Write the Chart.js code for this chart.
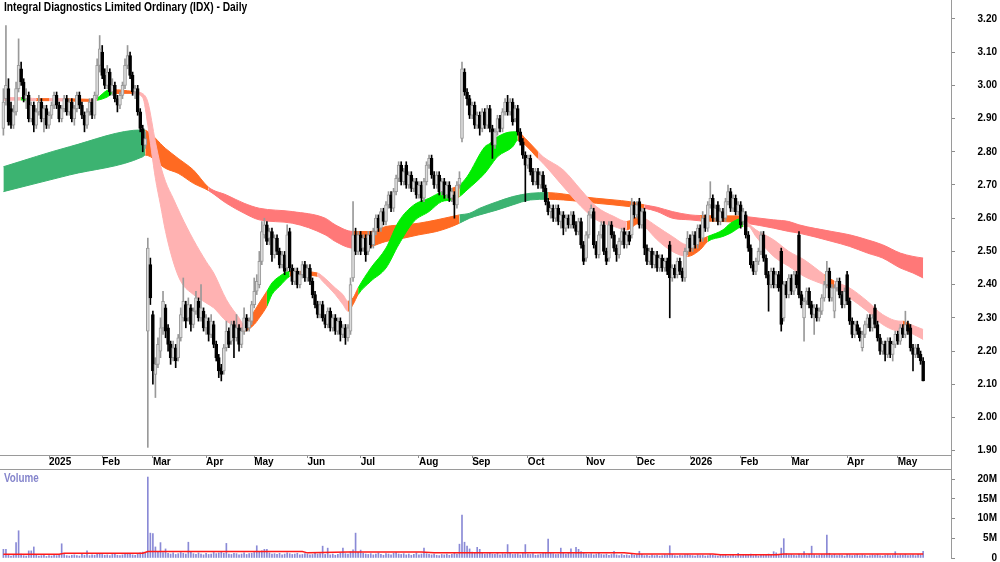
<!DOCTYPE html>
<html>
<head>
<meta charset="utf-8">
<title>Integral Diagnostics (IDX) - Daily</title>
<script src="https://cdn.jsdelivr.net/npm/chart.js"></script>
<style>
  body { margin: 0; background: #fff; }
  #wrap { position: relative; width: 1000px; height: 562px; overflow: hidden; }
  canvas { position: absolute; left: 0; }
  #priceChart { top: 0; }
  #volChart { top: 469px; }
  .lbl { position: absolute; font-weight: bold; font-size: 12px; white-space: nowrap; line-height: 14px; }
  #title { left: 4px; top: 0px; color: #000; font-size: 12.5px; }
  #volLabel { left: 4px; top: 471px; color: #8585cc; }
  #err { position: absolute; left: 300px; top: 200px; color: red; }
</style>
</head>
<body>
<div id="wrap">
  <canvas id="priceChart" width="1000" height="469"></canvas>
  <canvas id="volChart" width="1000" height="93"></canvas>
  <div id="title" class="lbl">Integral Diagnostics Limited Ordinary (IDX) - Daily</div>
  <div id="volLabel" class="lbl">Volume</div>
  <div id="err"></div>
</div>
<script>
// daily bars, Dec 2024 - mid May 2026 (index 0 = first bar on the chart)
const opens = [
  2.87,2.96,2.99,2.93,2.88,2.92,2.99,3.05,3.01,2.96,2.97,2.90,2.94,2.88,2.92,2.95,2.90,2.93,2.88,2.91,
  2.94,2.97,2.94,2.90,2.93,2.96,2.92,2.95,2.90,2.93,2.97,2.94,2.91,2.88,2.92,2.95,2.91,2.97,3.06,3.10,
  3.03,3.00,3.04,2.98,3.00,2.96,2.94,2.97,3.00,3.06,3.09,3.03,2.98,2.99,2.92,2.87,2.82,2.26,2.46,2.31,
  2.13,2.16,2.20,2.27,2.33,2.27,2.22,2.18,2.21,2.18,2.24,2.30,2.34,2.30,2.33,2.28,2.32,2.35,2.30,2.32,
  2.27,2.29,2.25,2.28,2.22,2.18,2.15,2.14,2.21,2.26,2.23,2.28,2.24,2.27,2.22,2.26,2.30,2.27,2.29,2.34,
  2.38,2.40,2.47,2.55,2.58,2.54,2.56,2.49,2.54,2.50,2.46,2.49,2.45,2.56,2.45,2.41,2.44,2.40,2.43,2.46,
  2.42,2.45,2.41,2.37,2.34,2.31,2.34,2.30,2.28,2.32,2.27,2.30,2.26,2.29,2.25,2.27,2.24,2.26,2.42,2.55,
  2.50,2.55,2.51,2.54,2.50,2.55,2.52,2.56,2.60,2.57,2.62,2.59,2.64,2.67,2.63,2.68,2.72,2.76,2.71,2.76,
  2.70,2.73,2.69,2.71,2.67,2.70,2.66,2.71,2.76,2.78,2.73,2.70,2.73,2.68,2.71,2.67,2.70,2.66,2.67,2.64,
  2.70,2.84,3.04,2.98,2.96,2.91,2.94,2.88,2.91,2.87,2.92,2.88,2.93,2.87,2.82,2.86,2.90,2.87,2.92,2.95,
  2.92,2.95,2.90,2.93,2.86,2.83,2.79,2.76,2.78,2.74,2.71,2.74,2.70,2.73,2.69,2.65,2.62,2.63,2.60,2.63,
  2.59,2.61,2.57,2.60,2.58,2.61,2.58,2.56,2.59,2.52,2.48,2.55,2.61,2.62,2.52,2.49,2.55,2.58,2.50,2.48,
  2.58,2.55,2.51,2.49,2.53,2.56,2.52,2.55,2.55,2.64,2.61,2.65,2.58,2.62,2.51,2.47,2.50,2.46,2.49,2.45,
  2.48,2.45,2.47,2.52,2.42,2.45,2.43,2.47,2.44,2.42,2.50,2.54,2.51,2.55,2.52,2.57,2.54,2.60,2.57,2.64,
  2.66,2.60,2.64,2.59,2.62,2.60,2.65,2.68,2.63,2.66,2.62,2.64,2.59,2.61,2.55,2.51,2.46,2.44,2.47,2.50,
  2.55,2.48,2.43,2.40,2.44,2.40,2.43,2.50,2.30,2.40,2.37,2.42,2.38,2.43,2.55,2.37,2.30,2.35,2.38,2.34,
  2.31,2.33,2.30,2.32,2.36,2.40,2.44,2.36,2.32,2.39,2.41,2.37,2.34,2.43,2.35,2.29,2.25,2.28,2.26,2.21,
  2.25,2.28,2.30,2.27,2.33,2.28,2.24,2.20,2.22,2.19,2.23,2.19,2.22,2.25,2.23,2.27,2.25,2.28,2.27,2.21,
  2.19,2.21,2.19,2.17
];
const highs = [
  2.99,3.18,3.02,2.95,2.94,3.01,3.14,3.07,3.02,2.99,2.98,2.95,2.95,2.93,2.97,2.96,2.94,2.94,2.92,2.95,
  2.98,2.98,2.95,2.94,2.97,2.97,2.96,2.96,2.94,2.98,2.98,2.95,2.92,2.93,2.96,2.96,2.98,3.08,3.15,3.12,
  3.05,3.06,3.05,3.02,3.01,2.97,2.98,3.01,3.08,3.12,3.10,3.04,3.00,3.00,2.93,2.88,2.86,2.54,2.48,2.32,
  2.18,2.24,2.30,2.38,2.34,2.28,2.23,2.23,2.22,2.25,2.33,2.42,2.35,2.36,2.34,2.33,2.38,2.36,2.40,2.33,
  2.31,2.30,2.31,2.29,2.23,2.19,2.16,2.22,2.29,2.27,2.29,2.29,2.31,2.28,2.27,2.33,2.31,2.30,2.35,2.42,
  2.43,2.50,2.59,2.60,2.59,2.57,2.57,2.55,2.55,2.51,2.50,2.50,2.58,2.57,2.46,2.45,2.45,2.44,2.47,2.47,
  2.46,2.46,2.42,2.38,2.35,2.35,2.35,2.31,2.33,2.33,2.31,2.31,2.30,2.30,2.28,2.28,2.28,2.42,2.65,2.57,
  2.56,2.56,2.55,2.55,2.56,2.56,2.57,2.61,2.61,2.63,2.63,2.65,2.68,2.68,2.69,2.73,2.77,2.77,2.75,2.77,
  2.74,2.74,2.72,2.72,2.71,2.71,2.72,2.77,2.79,2.79,2.74,2.74,2.74,2.72,2.72,2.71,2.71,2.69,2.68,2.71,
  2.74,3.07,3.05,2.99,2.97,2.95,2.95,2.92,2.92,2.93,2.93,2.94,2.94,2.88,2.87,2.91,2.91,2.93,2.96,2.97,
  2.96,2.96,2.94,2.94,2.87,2.84,2.80,2.79,2.79,2.75,2.75,2.75,2.74,2.74,2.70,2.66,2.64,2.64,2.64,2.64,
  2.62,2.62,2.61,2.61,2.62,2.62,2.59,2.60,2.60,2.53,2.56,2.62,2.64,2.63,2.53,2.56,2.59,2.59,2.51,2.59,
  2.59,2.56,2.52,2.54,2.57,2.57,2.56,2.56,2.66,2.65,2.65,2.66,2.63,2.63,2.52,2.51,2.51,2.50,2.50,2.49,
  2.49,2.48,2.48,2.53,2.46,2.46,2.48,2.48,2.45,2.51,2.56,2.55,2.56,2.56,2.58,2.58,2.62,2.61,2.65,2.71,
  2.67,2.64,2.65,2.63,2.63,2.66,2.70,2.69,2.67,2.67,2.65,2.65,2.63,2.62,2.56,2.52,2.47,2.48,2.51,2.56,
  2.56,2.49,2.44,2.45,2.45,2.44,2.44,2.51,2.41,2.41,2.43,2.43,2.44,2.44,2.56,2.38,2.36,2.39,2.39,2.35,
  2.34,2.34,2.33,2.37,2.41,2.47,2.45,2.40,2.40,2.42,2.42,2.38,2.39,2.44,2.36,2.30,2.29,2.29,2.27,2.26,
  2.29,2.31,2.31,2.31,2.34,2.29,2.25,2.23,2.23,2.24,2.24,2.23,2.26,2.26,2.28,2.28,2.32,2.29,2.28,2.22,
  2.22,2.22,2.20,2.18
];
const lows = [
  2.85,2.94,2.88,2.87,2.87,2.91,2.98,3.00,2.95,2.93,2.89,2.89,2.86,2.87,2.91,2.89,2.86,2.87,2.87,2.90,
  2.93,2.93,2.89,2.89,2.92,2.91,2.91,2.89,2.88,2.92,2.93,2.90,2.86,2.87,2.91,2.90,2.90,2.96,3.04,3.02,
  2.99,2.99,2.97,2.97,2.95,2.92,2.93,2.96,2.99,3.05,3.02,2.97,2.96,2.91,2.86,2.80,2.81,1.91,2.34,2.10,
  2.06,2.15,2.18,2.25,2.24,2.20,2.16,2.17,2.15,2.17,2.23,2.29,2.27,2.29,2.26,2.27,2.31,2.29,2.29,2.26,
  2.25,2.23,2.24,2.21,2.17,2.12,2.11,2.13,2.20,2.21,2.22,2.18,2.23,2.20,2.21,2.25,2.26,2.26,2.28,2.33,
  2.37,2.39,2.46,2.54,2.52,2.52,2.47,2.48,2.49,2.45,2.45,2.43,2.44,2.44,2.40,2.40,2.39,2.39,2.42,2.41,
  2.41,2.40,2.36,2.33,2.30,2.30,2.29,2.27,2.27,2.26,2.26,2.25,2.25,2.23,2.24,2.22,2.23,2.25,2.41,2.49,
  2.49,2.49,2.50,2.47,2.49,2.51,2.51,2.55,2.56,2.56,2.58,2.58,2.63,2.62,2.62,2.67,2.71,2.70,2.70,2.69,
  2.69,2.68,2.68,2.66,2.66,2.65,2.65,2.70,2.75,2.72,2.69,2.69,2.67,2.67,2.66,2.66,2.65,2.65,2.60,2.63,
  2.69,2.83,2.97,2.94,2.90,2.90,2.87,2.87,2.85,2.86,2.87,2.87,2.86,2.78,2.81,2.85,2.86,2.86,2.91,2.91,
  2.91,2.88,2.89,2.85,2.82,2.78,2.65,2.75,2.73,2.70,2.70,2.69,2.69,2.68,2.64,2.61,2.60,2.59,2.59,2.58,
  2.57,2.55,2.56,2.57,2.57,2.57,2.55,2.55,2.51,2.46,2.47,2.54,2.60,2.51,2.48,2.48,2.54,2.49,2.46,2.47,
  2.54,2.50,2.47,2.48,2.52,2.51,2.51,2.52,2.54,2.60,2.60,2.57,2.57,2.49,2.46,2.46,2.45,2.45,2.44,2.44,
  2.44,2.44,2.43,2.30,2.41,2.42,2.42,2.43,2.41,2.41,2.49,2.50,2.50,2.51,2.51,2.53,2.53,2.56,2.56,2.63,
  2.59,2.59,2.58,2.58,2.59,2.59,2.64,2.62,2.62,2.61,2.61,2.57,2.58,2.54,2.50,2.45,2.43,2.43,2.46,2.49,
  2.47,2.42,2.32,2.39,2.39,2.39,2.38,2.26,2.29,2.36,2.36,2.37,2.37,2.39,2.36,2.33,2.23,2.34,2.33,2.30,
  2.25,2.29,2.29,2.31,2.35,2.39,2.35,2.35,2.30,2.38,2.36,2.33,2.33,2.34,2.28,2.24,2.24,2.25,2.23,2.20,
  2.24,2.27,2.26,2.26,2.27,2.23,2.19,2.19,2.17,2.18,2.18,2.17,2.21,2.22,2.22,2.24,2.24,2.25,2.20,2.14,
  2.18,2.18,2.16,2.11
];
const closes = [
  2.95,3.00,2.89,2.88,2.92,2.99,3.06,3.01,2.96,2.97,2.90,2.94,2.88,2.92,2.95,2.90,2.93,2.88,2.91,2.94,
  2.97,2.94,2.90,2.93,2.96,2.92,2.95,2.90,2.93,2.97,2.94,2.91,2.88,2.92,2.95,2.91,2.97,3.06,3.11,3.03,
  3.00,3.04,2.98,3.00,2.96,2.94,2.97,3.00,3.06,3.09,3.03,2.98,2.99,2.92,2.87,2.82,2.84,2.51,2.36,2.14,
  2.16,2.22,2.27,2.35,2.26,2.22,2.18,2.21,2.17,2.24,2.31,2.35,2.29,2.34,2.28,2.32,2.36,2.30,2.33,2.27,
  2.30,2.25,2.29,2.22,2.18,2.14,2.13,2.21,2.26,2.22,2.28,2.24,2.27,2.22,2.26,2.30,2.27,2.29,2.34,2.38,
  2.41,2.47,2.56,2.58,2.53,2.56,2.49,2.54,2.50,2.46,2.49,2.44,2.55,2.45,2.41,2.44,2.40,2.43,2.46,2.42,
  2.45,2.41,2.37,2.34,2.31,2.34,2.30,2.28,2.32,2.27,2.30,2.26,2.29,2.25,2.27,2.24,2.27,2.40,2.55,2.50,
  2.55,2.50,2.54,2.49,2.55,2.52,2.56,2.60,2.57,2.62,2.59,2.64,2.67,2.63,2.68,2.72,2.76,2.71,2.74,2.70,
  2.73,2.69,2.71,2.67,2.70,2.66,2.71,2.76,2.78,2.73,2.70,2.73,2.68,2.71,2.67,2.70,2.66,2.68,2.64,2.70,
  2.72,3.05,2.98,2.96,2.91,2.94,2.88,2.91,2.87,2.92,2.88,2.93,2.87,2.82,2.86,2.90,2.87,2.92,2.95,2.92,
  2.95,2.89,2.93,2.86,2.83,2.79,2.76,2.78,2.74,2.71,2.74,2.70,2.73,2.69,2.65,2.62,2.63,2.60,2.63,2.59,
  2.61,2.57,2.60,2.58,2.61,2.58,2.56,2.59,2.52,2.47,2.55,2.61,2.63,2.52,2.49,2.55,2.58,2.50,2.47,2.58,
  2.55,2.51,2.49,2.53,2.56,2.52,2.55,2.53,2.64,2.61,2.64,2.58,2.62,2.51,2.47,2.50,2.46,2.49,2.45,2.48,
  2.45,2.47,2.44,2.42,2.45,2.43,2.47,2.44,2.42,2.50,2.54,2.51,2.55,2.52,2.57,2.54,2.60,2.57,2.64,2.66,
  2.60,2.63,2.59,2.62,2.60,2.65,2.68,2.63,2.66,2.62,2.64,2.58,2.62,2.55,2.51,2.46,2.44,2.47,2.50,2.55,
  2.48,2.43,2.40,2.44,2.40,2.43,2.39,2.28,2.40,2.37,2.42,2.38,2.43,2.40,2.37,2.34,2.35,2.38,2.34,2.31,
  2.33,2.30,2.32,2.36,2.40,2.44,2.36,2.39,2.39,2.41,2.37,2.34,2.38,2.35,2.29,2.25,2.28,2.26,2.24,2.25,
  2.28,2.30,2.27,2.30,2.28,2.24,2.20,2.22,2.19,2.23,2.19,2.22,2.25,2.23,2.27,2.25,2.28,2.26,2.21,2.19,
  2.21,2.19,2.17,2.11
];
// volume, millions of shares
const volumes = [
  2.2,2.2,0.7,0.5,0.8,3.9,6.9,1.0,0.6,0.5,1.8,1.8,2.8,0.7,0.5,0.6,0.9,0.4,0.6,0.5,
  0.7,0.6,0.8,3.6,0.9,0.6,0.5,0.7,0.8,0.6,0.5,0.9,0.7,1.8,0.6,0.8,0.7,1.2,1.0,0.9,
  0.7,0.8,0.6,0.9,1.1,0.7,0.6,0.8,1.0,1.2,0.9,0.8,0.7,1.1,1.3,1.5,1.4,20.5,6.3,6.2,
  2.8,1.5,3.9,1.4,2.3,1.2,1.0,1.3,0.9,1.1,1.4,1.2,1.0,4.0,1.6,1.1,0.9,1.3,1.0,0.8,
  1.2,0.9,1.0,1.4,1.1,1.3,1.6,1.2,3.7,1.0,0.9,1.2,1.1,0.8,1.0,1.3,0.9,1.1,1.2,1.4,
  3.1,1.5,1.8,2.2,2.2,1.3,1.0,1.1,0.9,1.2,0.8,1.0,1.3,1.1,0.9,1.0,1.2,0.8,0.9,1.1,
  1.0,0.8,0.9,1.2,1.0,1.1,3.0,0.9,2.5,0.8,1.0,0.7,0.9,1.2,2.5,1.1,1.0,1.6,2.1,6.3,
  1.5,2.0,1.2,1.0,0.9,1.1,0.8,1.0,1.3,0.9,0.7,1.1,1.0,0.8,1.2,1.4,1.0,0.9,1.1,0.8,
  1.0,0.7,0.9,1.3,0.8,1.0,2.5,1.1,0.9,0.8,1.0,0.7,0.6,0.9,0.8,1.0,0.7,0.9,1.2,1.0,
  3.5,10.9,4.0,3.0,2.3,1.5,1.2,2.7,2.2,1.3,1.0,1.1,1.4,1.0,0.9,1.2,0.8,1.1,1.0,3.4,
  1.2,0.9,1.0,1.1,0.8,1.3,3.4,1.0,0.9,1.1,0.7,0.8,1.0,1.2,1.4,4.8,1.3,1.1,0.9,1.0,
  2.5,1.2,1.0,1.4,2.3,1.1,2.7,2.2,1.6,1.3,1.0,0.9,1.1,0.8,1.0,1.2,0.9,0.8,1.0,0.7,
  0.9,1.7,0.8,0.6,0.9,0.7,0.8,0.6,1.0,0.7,0.8,1.7,0.9,0.6,0.7,0.5,0.8,0.6,0.7,0.5,
  0.6,0.8,0.7,3.1,0.9,0.6,0.5,0.7,0.6,0.8,0.9,0.7,0.6,0.5,0.8,0.6,0.7,0.5,0.6,0.9,
  0.7,0.6,0.5,0.7,0.6,0.8,0.5,0.6,0.7,0.5,1.2,0.6,0.8,0.7,0.9,1.0,0.6,0.7,0.5,0.8,
  0.9,0.7,1.0,0.8,1.6,1.3,0.9,2.5,4.9,1.1,0.8,0.9,0.7,0.6,1.0,0.8,1.6,0.7,0.9,3.0,
  0.8,0.6,0.7,0.9,0.8,5.8,1.2,0.7,0.9,0.6,0.8,0.7,0.5,0.9,0.8,0.6,0.7,0.9,0.6,0.8,
  0.7,0.5,0.6,0.8,0.7,0.9,0.6,0.5,0.7,0.8,0.6,0.7,1.6,0.6,0.8,0.7,0.9,0.6,0.7,0.8,
  0.6,0.9,0.8,1.7
];

// month axis: bar index where each month starts, and its label
const monthStarts = [18, 39, 59, 80, 99, 120, 141, 164, 185, 207, 230, 250, 271, 291, 311, 333, 353];
const monthLabels = ['2025','Feb','Mar','Apr','May','Jun','Jul','Aug','Sep','Oct','Nov','Dec','2026','Feb','Mar','Apr','May'];
const priceTicks = [1.9, 2.0, 2.1, 2.2, 2.3, 2.4, 2.5, 2.6, 2.7, 2.8, 2.9, 3.0, 3.1, 3.2];
const volTicks = [0, 5, 10, 15, 20];

// short-term ribbon (bar index, upper edge, lower edge, colour state from here on)
const shortIdx = [0,7,10,13,18,24,34,37,41,43,51,55,57,60,62,64,67,70,75,80,83,88,93,95,99,101,104,106,109,113,115,124,126,131,134,136,138,140,145,151,156,162,168,173,177,180,183,190,192,195,201,203,206,211,213,221,228,234,241,246,251,253,258,264,270,275,278,284,287,292,294,297,304,310,316,324,328,334,341,347,354,355,358,363];
const shortHi = [2.963,2.963,2.962,2.960,2.960,2.960,2.958,2.962,2.985,2.987,2.982,2.975,2.95,2.83,2.76,2.71,2.66,2.61,2.535,2.47,2.435,2.355,2.30,2.28,2.32,2.345,2.38,2.405,2.425,2.44,2.44,2.435,2.425,2.39,2.37,2.35,2.36,2.39,2.45,2.51,2.59,2.64,2.66,2.68,2.69,2.70,2.725,2.815,2.825,2.845,2.86,2.86,2.84,2.80,2.785,2.745,2.685,2.635,2.605,2.59,2.605,2.60,2.575,2.545,2.52,2.535,2.545,2.565,2.585,2.60,2.585,2.565,2.535,2.50,2.475,2.43,2.41,2.39,2.35,2.31,2.29,2.29,2.28,2.265];
const shortLo = [2.955,2.956,2.955,2.954,2.954,2.953,2.952,2.955,2.965,2.975,2.976,2.963,2.88,2.72,2.64,2.56,2.47,2.41,2.37,2.345,2.33,2.29,2.27,2.26,2.28,2.30,2.335,2.37,2.395,2.425,2.43,2.425,2.41,2.37,2.34,2.32,2.34,2.37,2.41,2.45,2.52,2.59,2.62,2.65,2.655,2.665,2.685,2.735,2.755,2.785,2.815,2.835,2.82,2.78,2.765,2.695,2.635,2.595,2.575,2.565,2.585,2.575,2.535,2.50,2.485,2.505,2.53,2.545,2.555,2.575,2.575,2.545,2.485,2.455,2.425,2.40,2.39,2.36,2.32,2.28,2.26,2.265,2.255,2.235];
const shortState = ['P','G','P','O','P','O','P','G','G','O','P','P','P','P','P','P','P','P','P','P','P','P','P','O','O','O','G','G','G','O','O','P','P','P','P','O','O','G','G','G','G','G','G','G','O','G','G','G','G','G','G','O','O','P','P','P','P','P','P','O','O','P','P','P','O','O','G','G','G','P','P','P','P','P','P','O','P','P','P','P','P','O','P','P'];

// long-term ribbon
const longIdx = [0,26,55,56,64,69,75,81,88,95,101,114,127,131,138,145,151,158,164,171,177,180,184,188,195,201,208,215,221,228,234,241,247,253,258,264,271,275,284,291,293,304,310,314,327,334,341,347,354,359,363];
const longHi = [2.755,2.815,2.866,2.865,2.81,2.78,2.745,2.693,2.67,2.645,2.63,2.62,2.60,2.58,2.56,2.56,2.575,2.58,2.585,2.595,2.605,2.61,2.615,2.63,2.65,2.665,2.675,2.677,2.673,2.665,2.66,2.655,2.65,2.64,2.633,2.62,2.61,2.608,2.607,2.607,2.605,2.595,2.59,2.58,2.56,2.55,2.535,2.52,2.495,2.485,2.48];
const longLo = [2.68,2.73,2.785,2.79,2.75,2.735,2.705,2.683,2.645,2.615,2.595,2.585,2.55,2.53,2.51,2.515,2.53,2.54,2.55,2.56,2.575,2.585,2.60,2.61,2.625,2.64,2.655,2.657,2.655,2.65,2.645,2.64,2.635,2.63,2.62,2.60,2.595,2.592,2.59,2.587,2.585,2.57,2.56,2.555,2.53,2.515,2.495,2.48,2.45,2.435,2.42];
const longState = ['G','G','G','O','O','O','O','R','R','R','R','R','R','R','O','O','O','O','O','O','O','G','G','G','G','G','G','O','O','O','O','O','O','R','R','R','R','O','O','O','R','R','R','R','R','R','R','R','R','R','R'];

// volume average line
const volAvgIdx = [0, 22, 24, 55, 57, 118, 120, 136, 165, 170, 245, 250, 280, 283, 305, 308, 363];
const volAvg = [0.93, 0.95, 1.2, 1.2, 1.65, 1.65, 1.3, 1.5, 1.5, 1.35, 1.3, 1.0, 1.0, 0.8, 0.8, 1.0, 1.0];

const lens = [opens.length, highs.length, lows.length, closes.length, volumes.length];
if (new Set(lens).size !== 1) document.getElementById('err').textContent = 'length mismatch ' + lens.join(',');

// pick a narrow font if one is installed
function narrowAvailable() {
  const c = document.createElement('canvas').getContext('2d');
  c.font = 'bold 12px monospace';
  const w0 = c.measureText('Integral Diagnostics').width;
  c.font = 'bold 12px "Liberation Sans Narrow", monospace';
  return c.measureText('Integral Diagnostics').width !== w0;
}
const NARROW = narrowAvailable();
const FAMILY = NARROW ? '"Liberation Sans Narrow", "Arial Narrow", sans-serif' : '"Liberation Sans", Arial, sans-serif';
const AXIS_FONT = { family: FAMILY, size: NARROW ? 12 : 10, weight: 'bold' };
document.querySelectorAll('.lbl').forEach(el => {
  el.style.fontFamily = FAMILY;
  if (!NARROW) { el.style.transform = 'scaleX(0.82)'; el.style.transformOrigin = 'left top'; }
});

const X_MIN = -1.34, X_MAX = 374;
const LONG_COL = { G: '#3cb371', R: '#ff7878', O: '#ff6a22' };
const SHORT_COL = { G: '#00ec00', P: '#ffb2b2', O: '#ff6a22' };
const UP_EDGE = '#999999', UP_FILL = '#dcdcdc';
const up = i => closes[i] >= opens[i];
const pts = (ix, vals) => ix.map((x, k) => ({ x: x, y: vals[k] }));
const zeroPad = s => { s.paddingLeft = 0; s.paddingRight = 0; s.paddingTop = 0; s.paddingBottom = 0; };

function ribbon(ix, hi, lo, state, cols, order) {
  const seg = c => cols[state[c.p0DataIndex]];
  const common = { type: 'line', order: order, pointRadius: 0, borderWidth: 1, cubicInterpolationMode: 'monotone' };
  return [
    Object.assign({}, common, { data: pts(ix, hi), fill: '+1', segment: { borderColor: seg, backgroundColor: seg } }),
    Object.assign({}, common, { data: pts(ix, lo), fill: false, segment: { borderColor: seg } })
  ];
}

const idx = closes.map((_, i) => i);

// vertical axis line through the date strip
const framePlugin = {
  id: 'frame',
  afterDraw(chart) {
    const { ctx, chartArea } = chart;
    ctx.save();
    ctx.strokeStyle = '#9a9a9a';
    ctx.lineWidth = 1;
    ctx.beginPath();
    ctx.moveTo(Math.round(chartArea.right) + 0.5, chartArea.bottom);
    ctx.lineTo(Math.round(chartArea.right) + 0.5, chart.height);
    ctx.stroke();
    ctx.restore();
  }
};

new Chart(document.getElementById('priceChart'), {
  type: 'bar',
  data: {
    datasets: [
      ...ribbon(longIdx, longHi, longLo, longState, LONG_COL, 4),
      ...ribbon(shortIdx, shortHi, shortLo, shortState, SHORT_COL, 3),
      {
        type: 'bar', order: 1, grouped: false, barThickness: 1, borderWidth: 0,
        data: idx.map(i => ({ x: i, y: [lows[i], highs[i]] })),
        backgroundColor: c => up(c.dataIndex) ? UP_EDGE : '#000000'
      },
      {
        type: 'bar', order: 0, grouped: false, barThickness: 3, minBarLength: 1,
        borderWidth: 1, borderSkipped: false,
        data: idx.map(i => ({ x: i, y: [Math.min(opens[i], closes[i]), Math.max(opens[i], closes[i])] })),
        backgroundColor: c => up(c.dataIndex) ? UP_FILL : '#000000',
        borderColor: c => up(c.dataIndex) ? UP_EDGE : '#000000'
      }
    ]
  },
  options: {
    responsive: false,
    animation: false,
    devicePixelRatio: 1,
    layout: { padding: { left: 0, right: 3, top: 0, bottom: 0 } },
    plugins: { legend: { display: false }, tooltip: { enabled: false } },
    scales: {
      x: {
        type: 'linear', min: X_MIN, max: X_MAX, offset: false, bounds: 'data',
        afterBuildTicks: s => { s.ticks = monthStarts.map(v => ({ value: v })); },
        afterFit: s => { s.height = 14; zeroPad(s); },
        grid: { drawOnChartArea: false, drawTicks: true, tickLength: 3, color: '#8c8c8c', offset: false },
        border: { color: '#9a9a9a' },
        ticks: { autoSkip: false, maxRotation: 0, align: 'start', padding: -2, color: '#000', font: AXIS_FONT,
                 callback: (v, i) => monthLabels[i] }
      },
      y: {
        position: 'right', min: 1.887, max: 3.257, bounds: 'data',
        afterBuildTicks: s => { s.ticks = priceTicks.map(v => ({ value: v })); },
        afterFit: s => { s.width = 46; zeroPad(s); },
        grid: { drawOnChartArea: false, tickLength: 4, color: '#8c8c8c' },
        border: { color: '#9a9a9a' },
        ticks: { crossAlign: 'far', padding: 0, color: '#000', font: AXIS_FONT, callback: v => v.toFixed(2) }
      }
    }
  },
  plugins: [framePlugin]
});

// separator line on top of the volume panel
const topLinePlugin = {
  id: 'topLine',
  afterDraw(chart) {
    const { ctx, chartArea } = chart;
    ctx.save();
    ctx.strokeStyle = '#9a9a9a';
    ctx.lineWidth = 1;
    ctx.beginPath();
    ctx.moveTo(0, 0.5);
    ctx.lineTo(chartArea.right, 0.5);
    ctx.stroke();
    ctx.restore();
  }
};

new Chart(document.getElementById('volChart'), {
  type: 'bar',
  data: {
    datasets: [
      {
        type: 'line', order: 0, data: pts(volAvgIdx, volAvg), pointRadius: 0,
        borderColor: '#ff1a1a', borderWidth: 1.5, fill: false
      },
      {
        type: 'bar', order: 1, grouped: false, barThickness: 1, borderWidth: 0,
        data: idx.map(i => ({ x: i, y: volumes[i] })),
        backgroundColor: '#8a8ad6'
      }
    ]
  },
  options: {
    responsive: false,
    animation: false,
    devicePixelRatio: 1,
    layout: { padding: { left: 0, right: 3, top: 0, bottom: 4 } },
    plugins: { legend: { display: false }, tooltip: { enabled: false } },
    scales: {
      x: { type: 'linear', display: false, min: X_MIN, max: X_MAX, offset: false, bounds: 'data', afterFit: zeroPad },
      y: {
        position: 'right', min: 0, max: 22.54, bounds: 'data',
        afterBuildTicks: s => { s.ticks = volTicks.map(v => ({ value: v })); },
        afterFit: s => { s.width = 46; zeroPad(s); },
        grid: { drawOnChartArea: false, tickLength: 4, color: '#8c8c8c' },
        border: { color: '#9a9a9a' },
        ticks: { crossAlign: 'far', padding: 0, color: '#000', font: AXIS_FONT, callback: v => v === 0 ? '0' : v + 'M' }
      }
    }
  },
  plugins: [topLinePlugin]
});
</script>
</body>
</html>
